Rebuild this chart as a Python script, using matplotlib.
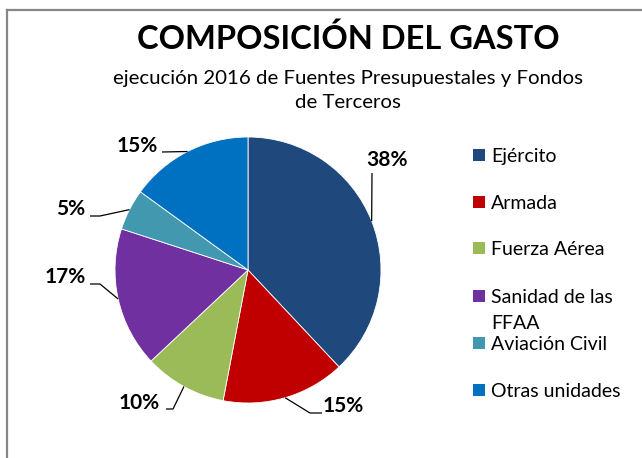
import matplotlib
matplotlib.use('Agg')
import matplotlib.pyplot as plt
from matplotlib.lines import Line2D
from matplotlib.patches import Rectangle
import numpy as np

# ---- data ----
categories = ['Ejército', 'Armada', 'Fuerza Aérea', 'Sanidad de las FFAA',
              'Aviación Civil', 'Otras unidades']
values = [38, 15, 10, 17, 5, 15]
legend_labels = [['Ejército'], ['Armada'], ['Fuerza Aérea'], ['Sanidad de las', 'FFAA'],
                 ['Aviación Civil'], ['Otras unidades']]
title = 'COMPOSICIÓN DEL GASTO'
subtitle_lines = ['ejecución 2016 de Fuentes Presupuestales y Fondos', 'de Terceros']

# ---- style ----
colors = ['#1F497D', '#C00000', '#9BBB59', '#7030A0', '#4198AF', '#0070C0']
FONT = ['Lato', 'DejaVu Sans']
plt.rcParams['font.family'] = FONT

W, H = 642, 458
fig = plt.figure(figsize=(W / 100, H / 100), dpi=100)
fig.patch.set_facecolor('white')

cx, cy, R = 248, 270, 133  # pie center / radius in pixels
ax = fig.add_axes([0, 0, 1, 1])
wedges, _ = ax.pie(values, colors=colors, startangle=90, counterclock=False,
                   radius=1, center=(0, 0),
                   wedgeprops=dict(edgecolor='white', linewidth=0.6))
ax.set_aspect('auto')
ax.set_xlim(-cx / R, (W - cx) / R)
ax.set_ylim(-(H - cy) / R, cy / R)
ax.axis('off')


def px(x, y):
    return ((x - cx) / R, (cy - y) / R)


# label layout (pixel positions) and leader elbows
label_pos = [(387, 160), (343, 406), (139, 403), (65, 277), (71, 209), (137, 146)]
leader_pts = [[(372, 173)],
              [(310, 413), (322, 413)],
              [(173, 409), (166, 409)],
              [(100, 284), (90, 284)],
              [(100, 216), (90, 216)],
              [(162, 152)]]

total = sum(values)
for w, v, lp, lpts in zip(wedges, values, label_pos, leader_pts):
    ang = np.deg2rad((w.theta1 + w.theta2) / 2)
    xs = [np.cos(ang)] + [px(*p)[0] for p in lpts]
    ys = [np.sin(ang)] + [px(*p)[1] for p in lpts]
    ax.plot(xs, ys, color='black', lw=0.9, solid_capstyle='butt')
    tx, ty = px(*lp)
    ax.text(tx, ty, f'{round(100 * v / total)}%', ha='center', va='center',
            fontsize=15, fontweight='bold', color='black')

# border (top and left grey lines)
fig.add_artist(Line2D([7 / W, 1], [1 - 10 / H, 1 - 10 / H], transform=fig.transFigure,
                      color='#878787', lw=1.6))
fig.add_artist(Line2D([7 / W, 7 / W], [1 - 10 / H, 0], transform=fig.transFigure,
                      color='#878787', lw=1.6))

# titles
fig.text(348 / W, 1 - 49 / H, title, ha='center', va='baseline',
         fontsize=23.5, fontweight='bold', color='black')
for i, line in enumerate(subtitle_lines):
    fig.text(348 / W, 1 - (84 + 24 * i) / H, line, ha='center', va='baseline',
             fontsize=14.7, color='black')

# legend (manual)
leg_y = [155, 202, 248, 296, 343, 390]
for lines, col, y in zip(legend_labels, colors, leg_y):
    fig.add_artist(Rectangle((473 / W, 1 - (y + 6) / H), 12 / W, 12 / H,
                             transform=fig.transFigure, facecolor=col, edgecolor='none'))
    for j, line in enumerate(lines):
        fig.text(491 / W, 1 - (y + 7 + 26 * j) / H, line, ha='left', va='baseline',
                 fontsize=14, color='black')

fig.savefig('out.png', dpi=100, facecolor='white')
